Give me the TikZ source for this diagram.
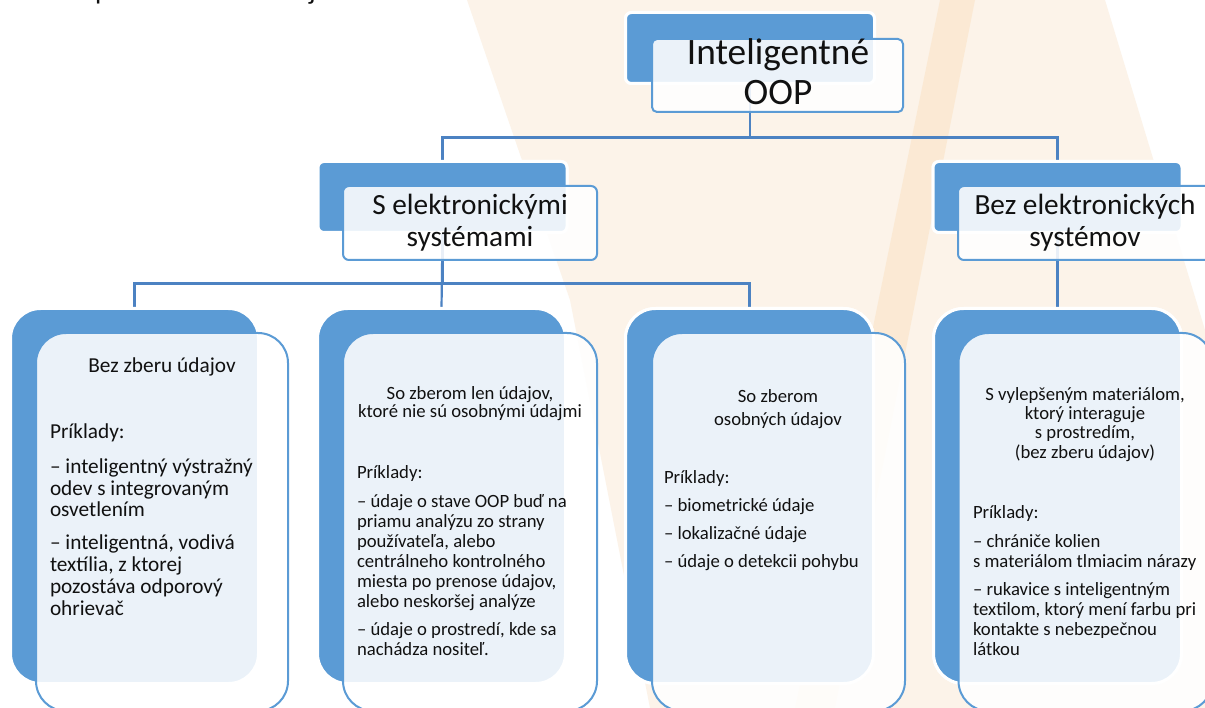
\documentclass[tikz,border=0pt]{standalone}
\usepackage{fontspec}
\setmainfont{Carlito}
\definecolor{cblue}{HTML}{5B9BD5}
\definecolor{cline}{HTML}{4C82C2}
\definecolor{ctext}{HTML}{111111}
\definecolor{cream}{HTML}{FCF3E9}
\definecolor{corange}{HTML}{FBE6CC}
\begin{document}
\begin{tikzpicture}[x=1pt,y=-1pt,
  back/.style={fill=cblue, draw=white, line width=3pt, inner sep=0pt, outer sep=0pt},
  front/.style={fill=white, fill opacity=0.88, draw=cblue, line width=2pt, inner sep=0pt, outer sep=0pt},
  conn/.style={draw=cline, line width=2.2pt},
  small/.style={rounded corners=6pt, minimum width=249pt, minimum height=71pt},
  big/.style={rounded corners=30pt, minimum width=248pt, minimum height=375pt},
  txt/.style={text=ctext, inner sep=0pt, outer sep=0pt},
  hdr/.style={txt, anchor=base, align=center},
  bod/.style={txt, anchor=base west, align=left}]
\useasboundingbox (0,0) rectangle (1205,708);
\clip (0,0) rectangle (1205,708);
\fill[white] (0,0) rectangle (1205,708);
% background decoration
\fill[cream] (467,0) -- (1105,0) -- (1205,330) -- (1205,708) -- (650,708) -- (570,300) -- cycle;
\fill[corange, opacity=0.7] (940,0) -- (975,0) -- (835,708) -- (795,708) -- cycle;
% cut-off text fragments at the top
\node[txt, anchor=base west, font=\fontsize{28}{30}\selectfont] (fragp) at (95,0) {p};
\node[txt, anchor=base west, font=\fontsize{28}{30}\selectfont] (fragj) at (309,0) {j};
% back boxes
\node[back, small] (tB) at (750,48) {};
\node[back, small] (lB) at (442.5,197) {};
\node[back, small] (rB) at (1057.5,197) {};
\node[back, big] (aB) at (134.5,496) {};
\node[back, big] (bB) at (441.5,496) {};
\node[back, big] (cB) at (749.5,496) {};
\node[back, big] (dB) at (1057.5,496) {};
% connectors
\draw[conn] (tB.south) -- ++(0,54) -| (lB.north);
\draw[conn] (tB.south) -- ++(0,54) -| (rB.north);
\draw[conn] (lB.south) -- ++(0,51) -| (aB.north);
\draw[conn] (lB.south) -- (bB.north);
\draw[conn] (lB.south) -- ++(0,51) -| (cB.north);
\draw[conn] (rB.south) -- (dB.north);
% redraw back boxes on top of connectors
\node[back, small] at (750,48) {};
\node[back, small] at (442.5,197) {};
\node[back, small] at (1057.5,197) {};
\node[back, big] at (134.5,496) {};
\node[back, big] at (441.5,496) {};
\node[back, big] at (749.5,496) {};
\node[back, big] at (1057.5,496) {};
% front boxes
\node[front, small, minimum width=251pt, minimum height=73pt, rounded corners=5pt] (tF) at (777.5,75.5) {};
\node[front, small, minimum width=254pt, minimum height=74pt] (lF) at (470,223) {};
\node[front, small, minimum width=254pt, minimum height=74pt] (rF) at (1085,223) {};
\node[front, big, minimum width=252pt, minimum height=378pt] (aF) at (162,522) {};
\node[front, big, minimum width=254pt, minimum height=378pt] (bF) at (470,522) {};
\node[front, big, minimum width=253pt, minimum height=378pt] (cF) at (778.5,522) {};
\node[front, big, minimum width=254pt, minimum height=378pt] (dF) at (1085.5,522) {};
% titles (anchor = baseline of the last line)
\node[hdr, font=\fontsize{37.3}{40}\selectfont] (tT) at (778,105) {Inteligentné\\OOP};
\node[hdr, font=\fontsize{29.3}{32}\selectfont] (lT) at (470,247) {S elektronickými\\systémami};
\node[hdr, font=\fontsize{29.3}{32}\selectfont] (rT) at (1085,247) {Bez elektronických\\systémov};
% box 1
\node[hdr, font=\fontsize{21.3}{21.7}\selectfont] (aH) at (162,373) {Bez zberu údajov};
\node[bod, font=\fontsize{21.3}{21.7}\selectfont] (aT) at (50,615) {Príklady:\\[13.3pt]– inteligentný výstražný\\odev s integrovaným\\osvetlením\\[11.3pt]– inteligentná, vodivá\\textília, z ktorej\\pozostáva odporový\\ohrievač};
% box 2
\node[hdr, font=\fontsize{18.7}{18.5}\selectfont] (bH) at (470,418) {So zberom len údajov,\\ktoré nie sú osobnými údajmi};
\node[bod, font=\fontsize{18.7}{20}\selectfont] (bT) at (357,655) {Príklady:\\[9pt]– údaje o stave OOP buď na\\priamu analýzu zo strany\\používateľa, alebo\\centrálneho kontrolného\\miesta po prenose údajov,\\alebo neskoršej analýze\\[8pt]– údaje o prostredí, kde sa\\nachádza nositeľ.};
% box 3
\node[hdr, font=\fontsize{18.7}{22}\selectfont] (cH) at (778,425) {So zberom\\osobných údajov};
\node[bod, font=\fontsize{18.7}{28}\selectfont] (cT) at (664,567) {Príklady:\\– biometrické údaje\\– lokalizačné údaje\\– údaje o detekcii pohybu};
% box 4
\node[hdr, font=\fontsize{18.7}{19.3}\selectfont] (dH) at (1085,458) {S vylepšeným materiálom,\\ktorý interaguje\\s prostredím,\\(bez zberu údajov)};
\node[bod, font=\fontsize{18.7}{20}\selectfont] (dT) at (973,655) {Príklady:\\[9pt]– chrániče kolien\\s materiálom tlmiacim nárazy\\[8pt]– rukavice s inteligentným\\textilom, ktorý mení farbu pri\\kontakte s nebezpečnou\\látkou};
\end{tikzpicture}
\end{document}
